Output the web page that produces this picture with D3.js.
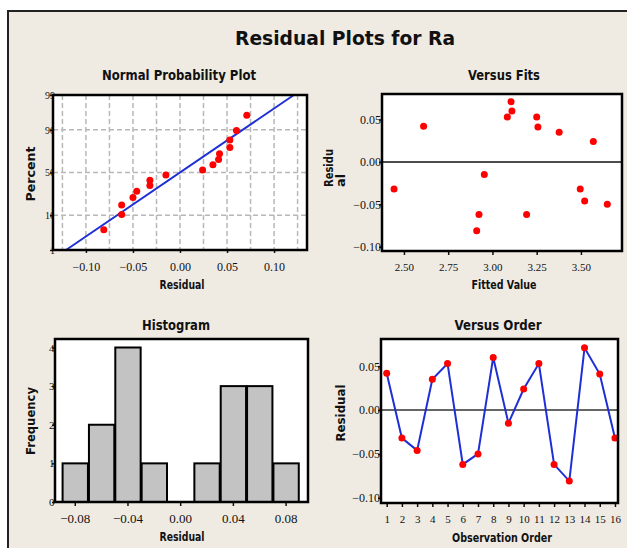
<!DOCTYPE html>
<html>
  <head>
    <meta charset="utf-8">
    <style>
      html,
      body {
        margin: 0;
        padding: 0;
        background: #fff;
      }
      text {
        fill: #111;
      }
      .tick text {
        font-family: "Liberation Serif", serif;
      }
      .title {
        font-family: "DejaVu Sans", sans-serif;
        font-weight: bold;
      }
    </style>
  </head>
  <body>
    <div id="viz"></div>
    <script src="https://d3js.org/d3.v7.min.js"></script>
    <script>
      // residuals in observation order, with their fitted values
      const observations = [1, 2, 3, 4, 5, 6, 7, 8, 9, 10, 11, 12, 13, 14, 15, 16];
      const residuals = [0.042, -0.032, -0.046, 0.035, 0.053, -0.062, -0.050, 0.060,
                         -0.015, 0.024, 0.053, -0.062, -0.081, 0.071, 0.041, -0.032];
      const fittedValues = [2.611, 2.444, 3.521, 3.377, 3.084, 2.924, 3.649, 3.110,
                            2.954, 3.570, 3.250, 3.193, 2.911, 3.105, 3.257, 3.496];

      // histogram
      const binCenters = [-0.08, -0.06, -0.04, -0.02, 0.0, 0.02, 0.04, 0.06, 0.08];
      const binCounts = [1, 2, 4, 1, 0, 1, 3, 3, 1];
      const binWidth = 0.02;

      // tick labels
      const percentTicks = [1, 10, 50, 90, 99];
      const normalXTicks = [-0.1, -0.05, 0.0, 0.05, 0.1];
      const normalGrid = [-0.125, -0.1, -0.075, -0.05, -0.025, 0, 0.025, 0.05, 0.075, 0.1, 0.125];
      const fitTicks = [2.5, 2.75, 3.0, 3.25, 3.5];
      const residTicks = [0.05, 0.0, -0.05, -0.1];
      const histXTicks = [-0.08, -0.04, 0.0, 0.04, 0.08];
      const countTicks = [0, 1, 2, 3, 4];

      const W = 627, H = 548;
      const beige = "#efebe3";

      // inverse normal cdf (Acklam)
      function probit(p) {
        const a = [-39.6968302866538, 220.946098424521, -275.928510446969, 138.357751867269, -30.6647980661472, 2.50662827745924];
        const b = [-54.4760987982241, 161.585836858041, -155.698979859887, 66.8013118877197, -13.2806815528857];
        const c = [-0.00778489400243029, -0.322396458041136, -2.40075827716184, -2.54973253934373, 4.37466414146497, 2.93816398269878];
        const d = [0.00778469570904146, 0.32246712907004, 2.445134137143, 3.75440866190742];
        const plow = 0.02425;
        let q, r;
        if (p < plow) {
          q = Math.sqrt(-2 * Math.log(p));
          return (((((c[0] * q + c[1]) * q + c[2]) * q + c[3]) * q + c[4]) * q + c[5]) /
            ((((d[0] * q + d[1]) * q + d[2]) * q + d[3]) * q + 1);
        }
        if (p > 1 - plow) {
          q = Math.sqrt(-2 * Math.log(1 - p));
          return -(((((c[0] * q + c[1]) * q + c[2]) * q + c[3]) * q + c[4]) * q + c[5]) /
            ((((d[0] * q + d[1]) * q + d[2]) * q + d[3]) * q + 1);
        }
        q = p - 0.5;
        r = q * q;
        return ((((((a[0] * r + a[1]) * r + a[2]) * r + a[3]) * r + a[4]) * r + a[5]) * q) /
          (((((b[0] * r + b[1]) * r + b[2]) * r + b[3]) * r + b[4]) * r + 1);
      }

      const svg = d3.select("#viz").append("svg").attr("width", W).attr("height", H);

      // frame
      svg.append("rect").attr("x", 8).attr("y", 11).attr("width", W).attr("height", H)
        .attr("fill", beige);
      svg.append("path").attr("d", `M8,${H} L8,11 L${W},11`)
        .attr("fill", "none").attr("stroke", "#222").attr("stroke-width", 2);

      const title = (txt, x, y, size, len, rot) => {
        const t = svg.append("text").attr("class", "title")
          .attr("transform", `translate(${x},${y})` + (rot ? " rotate(-90)" : ""))
          .attr("text-anchor", "middle")
          .attr("font-size", size)
          .text(txt);
        if (len) t.attr("textLength", len).attr("lengthAdjust", "spacingAndGlyphs");
        return t;
      };

      title("Residual Plots for Ra", 345, 45, 20, 220);

      const styleAxis = (g, size) => {
        g.select(".domain").remove();
        g.selectAll(".tick line").attr("stroke", "#111").attr("stroke-width", 1.5);
        g.selectAll(".tick text").attr("font-size", size);
      };

      // draws the plot background; labels drawn before it get clipped at the left edge
      const plotArea = (b) => {
        svg.append("rect").attr("x", b.x0).attr("y", b.y0)
          .attr("width", b.x1 - b.x0).attr("height", b.y1 - b.y0).attr("fill", "#fff");
        return svg.append("g");
      };
      const border = (b) => {
        svg.append("rect").attr("x", b.x0).attr("y", b.y0)
          .attr("width", b.x1 - b.x0).attr("height", b.y1 - b.y0)
          .attr("fill", "none").attr("stroke", "#000").attr("stroke-width", 2.5);
      };

      // ---------- Normal probability plot ----------
      {
        const b = { x0: 53, x1: 307, y0: 95, y1: 250 };
        const x = d3.scaleLinear().domain([-0.135, 0.135]).range([b.x0, b.x1]);
        const y = d3.scaleLinear().domain([probit(0.01), probit(0.99)]).range([b.y1, b.y0]);

        title("Normal Probability Plot", 179, 80, 14, 154);
        title("Residual", 182, 289, 12, 45);
        title("Percent", 35, 174, 13, 55, true);

        const ya = svg.append("g").attr("transform", `translate(${b.x0},0)`)
          .call(d3.axisLeft(y).tickValues(percentTicks.map((p) => probit(p / 100)))
            .tickFormat((d, i) => percentTicks[i]).tickSize(3).tickPadding(-5));
        styleAxis(ya, 10);

        const g = plotArea(b);
        g.selectAll(".vg").data(normalGrid).join("line")
          .attr("x1", (d) => x(d)).attr("x2", (d) => x(d))
          .attr("y1", b.y0).attr("y2", b.y1)
          .attr("stroke", "#b8b8b8").attr("stroke-width", 1.5).attr("stroke-dasharray", "5,3");
        g.selectAll(".hg").data(percentTicks.slice(1, 4)).join("line")
          .attr("x1", b.x0).attr("x2", b.x1)
          .attr("y1", (d) => y(probit(d / 100))).attr("y2", (d) => y(probit(d / 100)))
          .attr("stroke", "#b8b8b8").attr("stroke-width", 1.5).attr("stroke-dasharray", "5,3");

        const n = residuals.length;
        const sorted = residuals.slice().sort(d3.ascending);
        const pts = sorted.map((r, i) => ({ r, z: probit((i + 1 - 0.3) / (n + 0.4)) }));
        const mean = d3.mean(residuals), sd = d3.deviation(residuals);
        const zLo = probit(0.01), zHi = probit(0.99);
        g.append("line")
          .attr("x1", x(mean + sd * zLo)).attr("y1", y(zLo))
          .attr("x2", x(mean + sd * zHi)).attr("y2", y(zHi))
          .attr("stroke", "#1f2fd6").attr("stroke-width", 2);
        g.selectAll("circle").data(pts).join("circle")
          .attr("cx", (d) => x(d.r)).attr("cy", (d) => y(d.z)).attr("r", 3.5)
          .attr("fill", "#f00");

        const xa = svg.append("g").attr("transform", `translate(0,${b.y1})`)
          .call(d3.axisBottom(x).tickValues(normalXTicks).tickFormat(d3.format(".2f"))
            .tickSize(3).tickPadding(9));
        styleAxis(xa, 12);
        border(b);
      }

      // ---------- Versus fits ----------
      {
        const b = { x0: 382, x1: 622, y0: 94, y1: 251 };
        const x = d3.scaleLinear().domain([2.376, 3.732]).range([b.x0, b.x1]);
        const y = d3.scaleLinear().domain([-0.105, 0.08]).range([b.y1, b.y0]);

        title("Versus Fits", 504, 80, 14, 72);
        title("Fitted Value", 504, 289, 12, 65);
        svg.append("text").attr("class", "title").attr("font-size", 13)
          .attr("transform", "translate(333,187) rotate(-90)")
          .attr("textLength", 38).attr("lengthAdjust", "spacingAndGlyphs").text("Residu");
        svg.append("text").attr("class", "title").attr("font-size", 13)
          .attr("transform", "translate(345,187) rotate(-90)").text("al");

        const ya = svg.append("g").attr("transform", `translate(${b.x0},0)`)
          .call(d3.axisLeft(y).tickValues(residTicks).tickFormat(d3.format(".2f"))
            .tickSize(3).tickPadding(-2));
        styleAxis(ya, 12);

        const g = plotArea(b);
        g.append("line").attr("x1", b.x0).attr("x2", b.x1)
          .attr("y1", y(0)).attr("y2", y(0)).attr("stroke", "#111").attr("stroke-width", 1.5);
        g.selectAll("circle").data(residuals).join("circle")
          .attr("cx", (d, i) => x(fittedValues[i])).attr("cy", (d) => y(d)).attr("r", 3.5)
          .attr("fill", "#f00");

        const xa = svg.append("g").attr("transform", `translate(0,${b.y1})`)
          .call(d3.axisBottom(x).tickValues(fitTicks).tickFormat(d3.format(".2f"))
            .tickSize(4).tickPadding(8));
        styleAxis(xa, 11);
        border(b);
      }

      // ---------- Histogram ----------
      {
        const b = { x0: 55, x1: 308, y0: 339, y1: 502 };
        const x = d3.scaleLinear().domain([-0.095, 0.097]).range([b.x0, b.x1]);
        const y = d3.scaleLinear().domain([0, 4.22]).range([b.y1, b.y0]);

        title("Histogram", 176, 330, 14, 68);
        title("Residual", 182, 541, 12, 45);
        title("Frequency", 35, 421, 13, 68, true);

        const ya = svg.append("g").attr("transform", `translate(${b.x0},0)`)
          .call(d3.axisLeft(y).tickValues(countTicks).tickFormat(d3.format("d"))
            .tickSize(3).tickPadding(-2.5));
        styleAxis(ya, 11);

        const g = plotArea(b);
        g.selectAll("rect").data(binCenters).join("rect")
          .attr("x", (d) => x(d - binWidth / 2) + 1)
          .attr("width", (d) => x(d + binWidth / 2) - x(d - binWidth / 2) - 1)
          .attr("y", (d, i) => y(binCounts[i]))
          .attr("height", (d, i) => y(0) - y(binCounts[i]))
          .attr("fill", "#c3c3c3").attr("stroke", "#000").attr("stroke-width", 2);

        const xa = svg.append("g").attr("transform", `translate(0,${b.y1})`)
          .call(d3.axisBottom(x).tickValues(histXTicks).tickFormat(d3.format(".2f"))
            .tickSize(4).tickPadding(8));
        styleAxis(xa, 13);
        border(b);
      }

      // ---------- Versus order ----------
      {
        const b = { x0: 381, x1: 618, y0: 339, y1: 503 };
        const x = d3.scaleLinear().domain([0.626, 16.2]).range([b.x0, b.x1]);
        const y = d3.scaleLinear().domain([-0.106, 0.081]).range([b.y1, b.y0]);

        title("Versus Order", 498, 330, 14, 87);
        title("Observation Order", 502, 542, 12, 100);
        title("Residual", 345, 413, 13, 57, true);

        const ya = svg.append("g").attr("transform", `translate(${b.x0},0)`)
          .call(d3.axisLeft(y).tickValues(residTicks).tickFormat(d3.format(".2f"))
            .tickSize(3).tickPadding(-2));
        styleAxis(ya, 12);

        const g = plotArea(b);
        g.append("line").attr("x1", b.x0).attr("x2", b.x1)
          .attr("y1", y(0)).attr("y2", y(0)).attr("stroke", "#333").attr("stroke-width", 1.5);
        g.append("path")
          .attr("d", d3.line().x((d, i) => x(observations[i])).y((d) => y(d))(residuals))
          .attr("fill", "none").attr("stroke", "#1f2fd6").attr("stroke-width", 2);
        g.selectAll("circle").data(residuals).join("circle")
          .attr("cx", (d, i) => x(observations[i])).attr("cy", (d) => y(d)).attr("r", 3.5)
          .attr("fill", "#f00");

        const xa = svg.append("g").attr("transform", `translate(0,${b.y1})`)
          .call(d3.axisBottom(x).tickValues(observations).tickFormat(d3.format("d"))
            .tickSize(4).tickPadding(8));
        styleAxis(xa, 11);
        border(b);
      }
    </script>
  </body>
</html>
